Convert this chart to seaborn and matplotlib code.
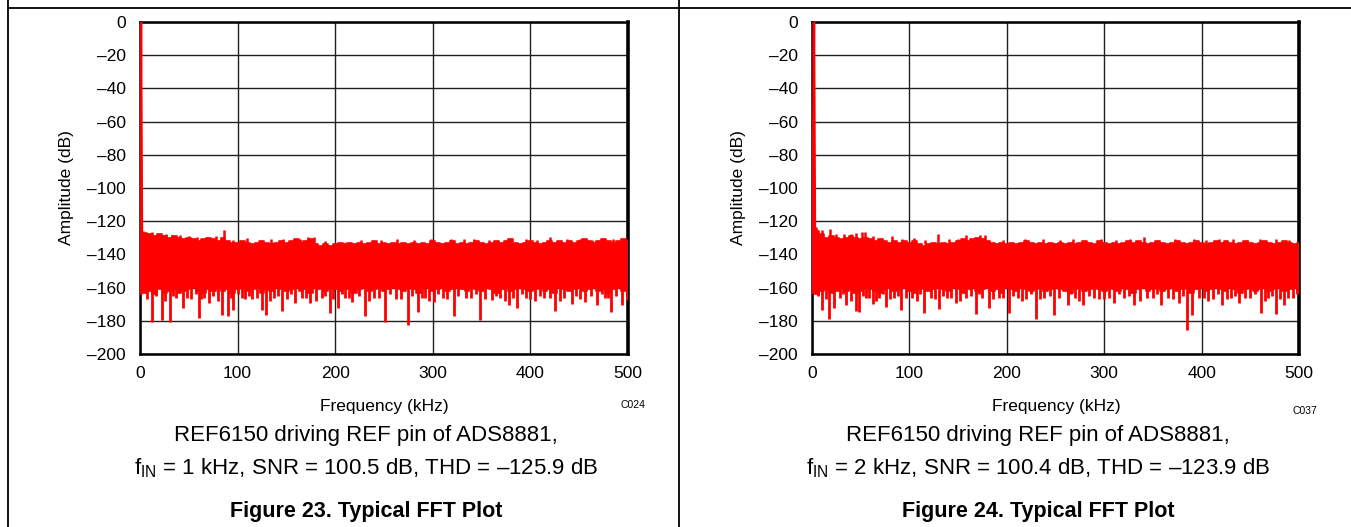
import numpy as np
import pandas as pd
import seaborn as sns
import matplotlib.pyplot as plt
from matplotlib.lines import Line2D

# frequency grid of the noise band envelope (kHz)
freq = list(range(0, 501, 5))

# panel 1 (Figure 23): solid noise band, top and bottom edge (dB)
p1_top = [-128, -127, -128, -129, -128, -129, -130, -129, -130, -131,
          -130, -131, -132, -131, -130, -131, -132, -130, -132, -133,
          -133, -132, -133, -134, -133, -132, -133, -134, -133, -132,
          -133, -132, -131, -133, -132, -131, -134, -135, -134, -135,
          -134, -133, -134, -133, -134, -133, -134, -133, -132, -134,
          -133, -134, -133, -134, -133, -134, -133, -134, -133, -134,
          -132, -133, -134, -133, -132, -134, -133, -134, -133, -132,
          -133, -134, -133, -132, -133, -132, -131, -133, -134, -133,
          -132, -133, -134, -133, -132, -133, -132, -133, -132, -133,
          -132, -131, -132, -133, -132, -131, -132, -133, -132, -131,
          -132]
p1_bot = [-164, -163, -162, -164, -161, -163, -162, -161, -163, -162,
          -161, -160, -162, -163, -161, -162, -160, -162, -161, -163,
          -161, -160, -162, -161, -160, -163, -161, -162, -160, -161,
          -162, -161, -160, -162, -161, -163, -160, -161, -162, -160,
          -161, -162, -160, -161, -163, -161, -160, -162, -161, -160,
          -162, -161, -160, -161, -162, -160, -161, -163, -161, -160,
          -162, -161, -160, -162, -161, -160, -161, -162, -160, -161,
          -162, -160, -161, -163, -161, -160, -162, -161, -160, -161,
          -162, -161, -160, -162, -161, -163, -160, -161, -162, -161,
          -160, -162, -161, -160, -162, -161, -163, -161, -160, -162,
          -161]
p1_peak_f = [3, 8, 19, 27, 41, 50, 72, 78, 86, 110, 134, 164, 172, 178,
             298, 319, 332, 377, 420, 438, 463, 485, 499,
             12, 33, 58, 95, 122, 147, 190, 226, 247, 263, 281, 342, 358,
             396, 407, 451, 474]
p1_peak_db = [-126, -127, -127.5, -128, -128.5, -129, -130, -129, -125.6, -130,
              -130.5, -131, -129.5, -129.5, -131, -130.5, -131, -130.5, -129.5,
              -130.5, -131.5, -131, -131.5,
              -126.5, -128.5, -129.5, -131.5, -131.5, -131, -132, -131.5, -131.5,
              -131, -131.5, -131, -131.5, -131, -131.5, -131, -131]
p1_dip_f = [12.6, 22.2, 30.8, 37, 44.4, 52, 60.5, 66, 71, 83.7, 89.9, 95.7, 104, 115,
            124.7, 129, 137, 145, 159, 166, 174.3, 186, 194.8, 203.3, 210, 217, 230.7,
            240, 251.2, 262, 274.4, 284.7, 292, 300.8, 310, 321.3, 334, 348.6, 360.6,
            369, 377.7, 386.2, 395, 405, 414, 425.5, 434, 442.6, 456.2, 462, 468.2,
            476, 483, 493.9, 499,
            7, 16, 26, 34, 48, 57, 63, 75, 80, 93, 100, 108, 112, 120, 133, 141, 151,
            155, 170, 180, 190, 198, 207, 214, 224, 235, 245, 256, 267, 279, 289, 296,
            305, 315, 326, 339, 344, 353, 365, 374, 382, 391, 400, 410, 420, 430, 447,
            451, 473, 480, 488]
p1_dip_db = [-180.8, -179.6, -180.8, -166, -172, -167, -178.4, -166, -169, -176.8,
             -177.4, -173.4, -166, -167, -173.4, -176.8, -166, -173.8, -169, -166,
             -169, -166, -175.4, -172.4, -166, -168.7, -177.4, -166, -180.8, -167,
             -182.4, -174.8, -166, -168.7, -166, -177.4, -166, -179.4, -167.3, -166,
             -170.7, -172.4, -166, -168, -166, -174, -166, -170, -168.7, -165,
             -170.3, -166, -174.8, -170.3, -167.3,
             -167, -165, -168, -165, -166, -164, -167, -165, -168, -166, -164, -167,
             -165, -166, -168, -165, -167, -164, -166, -168, -165, -167, -164, -166,
             -165, -168, -166, -164, -167, -165, -166, -168, -164, -167, -165, -166,
             -164, -167, -165, -168, -166, -164, -167, -165, -166, -168, -165, -167,
             -164, -166, -165]
p1_fund_f = [0, 1, 2]
p1_fund_db = [-135, 0, -128]

# panel 2 (Figure 24)
p2_top = [-125, -126, -128, -130, -129, -130, -131, -130, -129, -130,
          -131, -130, -131, -132, -131, -132, -133, -132, -133, -132,
          -133, -132, -134, -135, -134, -133, -134, -133, -134, -133,
          -132, -131, -132, -131, -130, -131, -132, -133, -134, -133,
          -134, -133, -134, -133, -132, -133, -134, -133, -134, -133,
          -134, -133, -134, -133, -134, -133, -132, -133, -134, -132,
          -133, -134, -133, -134, -133, -132, -133, -132, -133, -134,
          -133, -132, -133, -134, -133, -132, -133, -134, -133, -132,
          -133, -134, -133, -132, -133, -132, -133, -134, -133, -132,
          -133, -134, -133, -132, -133, -134, -133, -132, -133, -134,
          -133]
p2_bot = [-163, -164, -162, -161, -163, -162, -160, -162, -161, -163,
          -162, -160, -161, -162, -163, -161, -160, -162, -161, -160,
          -162, -163, -161, -160, -162, -161, -160, -161, -162, -160,
          -161, -163, -161, -160, -162, -161, -160, -162, -161, -163,
          -160, -161, -162, -160, -161, -162, -161, -160, -162, -161,
          -160, -161, -162, -163, -161, -160, -162, -161, -160, -161,
          -162, -160, -161, -162, -160, -161, -163, -161, -160, -162,
          -161, -160, -162, -161, -160, -162, -161, -160, -163, -161,
          -160, -162, -161, -160, -161, -162, -160, -161, -163, -161,
          -160, -162, -161, -160, -162, -161, -160, -162, -161, -160,
          -162]
p2_peak_f = [4, 10, 18, 33, 45, 51, 54, 82, 105, 129, 158, 172, 178, 219,
             297, 341, 373, 418, 460, 490,
             25, 40, 63, 92, 116, 141, 150, 196, 237, 255, 268, 312, 327, 392,
             405, 432, 447, 476]
p2_peak_db = [-123.5, -125.5, -124.6, -128, -127, -126.6, -126.6, -129, -130, -127.6,
              -128.5, -128.3, -128.5, -130.5, -130.5, -129.5, -130.5, -130.5, -131, -131.5,
              -128, -127.5, -129, -131, -131.5, -131, -130.5, -131.5, -131, -131.5, -131,
              -131.5, -131, -131, -131.5, -131, -131.5, -131]
p2_dip_f = [10.4, 17.3, 23.1, 29, 35, 45.3, 48.7, 55, 62.4, 69, 76, 84, 91.5, 103,
            115.4, 122, 130, 139, 147.9, 158, 168.4, 175, 182, 192, 201.9, 212, 220,
            229.9, 238, 248.7, 262.4, 270, 277.8, 290, 300, 310.2, 320, 330.8, 344,
            358.1, 366, 376.9, 385.5, 390.6, 402, 412, 421.4, 430, 438.5, 450, 460.7,
            468, 476.1, 484.6, 494,
            6, 14, 32, 40, 52, 59, 66, 73, 80, 88, 97, 108, 111, 126, 135, 143, 152,
            163, 171, 186, 196, 206, 216, 225, 234, 244, 254, 266, 274, 284, 295, 305,
            315, 325, 337, 350, 354, 371, 381, 397, 407, 417, 426, 434, 445, 455, 465,
            472, 480, 489, 498]
p2_dip_db = [-173.4, -178.8, -172.4, -166, -170.4, -174, -174.8, -166, -170, -166,
             -171.4, -166, -173.4, -166, -175.4, -166, -172.8, -166, -169.4, -166,
             -176, -166, -172.4, -166, -175.4, -166, -167, -178.8, -166, -176.4,
             -170.4, -166, -170.4, -166, -167, -169.4, -166, -170.4, -166, -170.4,
             -166, -169.4, -185.3, -176.8, -166, -167, -170.4, -166, -169.4, -166,
             -175.4, -166, -176, -170.4, -166,
             -165, -167, -164, -168, -165, -166, -168, -164, -167, -165, -166, -168,
             -164, -167, -165, -166, -168, -165, -164, -167, -166, -165, -168, -164,
             -167, -165, -166, -164, -168, -165, -167, -166, -164, -165, -168, -166,
             -164, -167, -165, -166, -168, -164, -167, -165, -166, -164, -168, -165,
             -167, -166, -164]
p2_fund_f = [0, 0.6, 2, 3]
p2_fund_db = [-68, -140, 0, -125]

x_ticks = [0, 100, 200, 300, 400, 500]
y_ticks = [0, -20, -40, -60, -80, -100, -120, -140, -160, -180, -200]
y_labels = ['0' if v == 0 else '\u2013' + str(-v) for v in y_ticks]

RED = '#ff0000'
W, H = 1351, 527

sns.set_style('white')
plt.rcParams['font.family'] = ['Liberation Sans', 'DejaVu Sans']
plt.rcParams['text.color'] = 'black'
plt.rcParams['mathtext.fontset'] = 'custom'
plt.rcParams['mathtext.rm'] = 'Liberation Sans'


def fx(x):
    return x / W


def fy(y):
    return 1 - y / H


def draw_panel(ax, top, bot, peak_f, peak_db, dip_f, dip_db, fund_f, fund_db):
    df = pd.DataFrame({'freq': freq, 'top': top, 'bot': bot})
    ax.fill_between(df['freq'], df['bot'], df['top'], step='mid', color=RED, lw=0, zorder=3)
    sns.lineplot(data=df, x='freq', y='top', ax=ax, color=RED, lw=1.2,
                 drawstyle='steps-mid', zorder=3)
    sns.lineplot(data=df, x='freq', y='bot', ax=ax, color=RED, lw=1.2,
                 drawstyle='steps-mid', zorder=3)
    ax.vlines(peak_f, -134, peak_db, color=RED, lw=1.8, zorder=3)
    ax.vlines(dip_f, -158, dip_db, color=RED, lw=2.0, zorder=3)
    sns.lineplot(x=fund_f, y=fund_db, ax=ax, color=RED, lw=1.8, zorder=3, sort=False)

    ax.set_xlim(0, 500)
    ax.set_ylim(-200, 0)
    ax.set_xticks(x_ticks)
    ax.set_xticklabels([str(v) for v in x_ticks])
    ax.set_yticks(y_ticks)
    ax.set_yticklabels(y_labels)
    ax.tick_params(length=0, labelsize=12.5, colors='black')
    ax.tick_params(axis='y', pad=10)
    ax.tick_params(axis='x', pad=9)
    ax.grid(True, color='#202020', lw=1.0)
    ax.set_axisbelow(True)
    for side in ['left', 'bottom', 'top']:
        ax.spines[side].set_color('black')
        ax.spines[side].set_linewidth(1.8)
    ax.spines['right'].set_color('black')
    ax.spines['right'].set_linewidth(2.6)
    ax.set_xlabel('')
    ax.set_ylabel('')


fig = plt.figure(figsize=(W / 100, H / 100), dpi=100)
ax1 = fig.add_axes([fx(140), fy(354), 488 / W, 332 / H])
ax2 = fig.add_axes([fx(812), fy(354), 487 / W, 332 / H])

draw_panel(ax1, p1_top, p1_bot, p1_peak_f, p1_peak_db, p1_dip_f, p1_dip_db,
           p1_fund_f, p1_fund_db)
draw_panel(ax2, p2_top, p2_bot, p2_peak_f, p2_peak_db, p2_dip_f, p2_dip_db,
           p2_fund_f, p2_fund_db)

panels = [
    (0, 140, 'C024', 405, '1 kHz', '100.5', '125.9', '23'),
    (672, 812, 'C037', 411, '2 kHz', '100.4', '123.9', '24'),
]
for off, left, code, code_y, fin, snr, thd, num in panels:
    fig.text(fx(left - 74), fy(188), 'Amplitude (dB)', rotation=90,
             ha='center', va='center', fontsize=12.5)
    fig.text(fx(left + 244), fy(406), 'Frequency (kHz)', ha='center', va='center',
             fontsize=12.5)
    fig.text(fx(left + 493), fy(code_y), code, ha='center', va='center', fontsize=7.5)
    cx = 366 + off
    fig.text(fx(cx), fy(436), 'REF6150 driving REF pin of ADS8881,',
             ha='center', va='center', fontsize=16)
    fig.text(fx(cx), fy(468),
             'f$_{\\mathrm{IN}}$ = ' + fin + ', SNR = ' + snr + ' dB, THD = \u2013' + thd + ' dB',
             ha='center', va='center', fontsize=16)
    fig.text(fx(cx), fy(511), 'Figure ' + num + '. Typical FFT Plot',
             ha='center', va='center', fontsize=15.5, fontweight='bold')

# table cell borders of the datasheet page
fig.add_artist(Line2D([fx(8), 1], [fy(8), fy(8)], color='black', lw=1.3))
fig.add_artist(Line2D([fx(8), fx(8)], [0, 1], color='black', lw=1.3))
fig.add_artist(Line2D([fx(679), fx(679)], [0, 1], color='black', lw=1.3))

fig.savefig('out.png', dpi=100)
